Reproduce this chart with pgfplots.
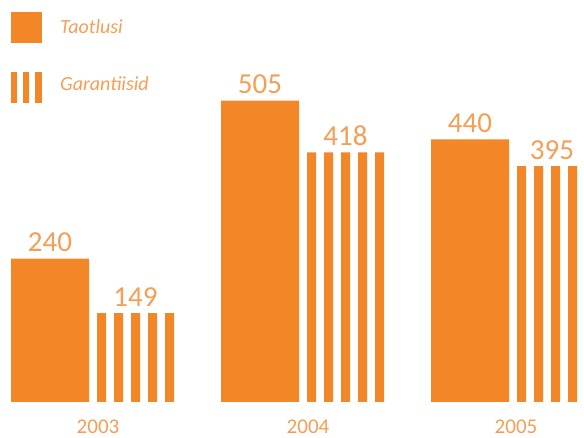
\documentclass[border=0pt]{standalone}
\usepackage{pgfplots}
\pgfplotsset{compat=1.18}
\usepackage{fontspec}
\setmainfont{Carlito}
\definecolor{barc}{RGB}{243,134,38}
\definecolor{txtc}{RGB}{245,158,85}
\begin{document}
\begin{tikzpicture}
\begin{axis}[at={(0,0)},anchor=south west,
  width=584pt,height=438pt,scale only axis,hide axis,
  xmin=0,xmax=584,ymin=-60.3,ymax=673.4,clip=false]
% Taotlusi (solid)
\addplot[ybar,bar width=78,bar shift=0pt,fill=barc,draw=none]
  coordinates {(50,240) (260,505) (470,440)};
% Garantiisid (striped: each stripe is a bar of the same value)
\addplot[ybar,bar width=9,bar shift=0pt,fill=barc,draw=none]
  coordinates {(101.5,149) (118.5,149) (135.5,149) (152.5,149) (169.5,149)
               (311.5,418) (328.5,418) (345.5,418) (362.5,418) (379.5,418)
               (521.5,395) (538.5,395) (555.5,395) (572.5,395) (589.5,395)};
\begin{scope}[every node/.style={text=txtc,font=\fontsize{29}{30}\selectfont,anchor=base,yshift=7pt}]
\node at (axis cs:50,240) {240};
\node at (axis cs:135.5,149) {149};
\node at (axis cs:260,505) {505};
\node at (axis cs:345.5,418) {418};
\node at (axis cs:470,440) {440};
\node at (axis cs:552,395) {395};
\end{scope}
\begin{scope}[every node/.style={text=txtc,font=\fontsize{21}{23}\selectfont,anchor=base,inner sep=1pt}]
\node at (axis cs:98,-52) {2003};
\node at (axis cs:308,-52) {2004};
\node at (axis cs:516,-52) {2005};
\end{scope}
\end{axis}
% legend
\fill[barc] (11pt,395pt) rectangle (42pt,426pt);
\fill[barc] (11pt,335pt) rectangle (17pt,366pt);
\fill[barc] (23pt,335pt) rectangle (29pt,366pt);
\fill[barc] (35pt,335pt) rectangle (42pt,366pt);
\node[anchor=base west,inner sep=0pt,text=txtc,font=\fontsize{20}{22}\selectfont\itshape] at (60pt,404pt) {Taotlusi};
\node[anchor=base west,inner sep=0pt,text=txtc,font=\fontsize{20}{22}\selectfont\itshape] at (60pt,347pt) {Garantiisid};
\pgfresetboundingbox
\useasboundingbox (0,0) rectangle (584pt,438pt);
\end{tikzpicture}
\end{document}
